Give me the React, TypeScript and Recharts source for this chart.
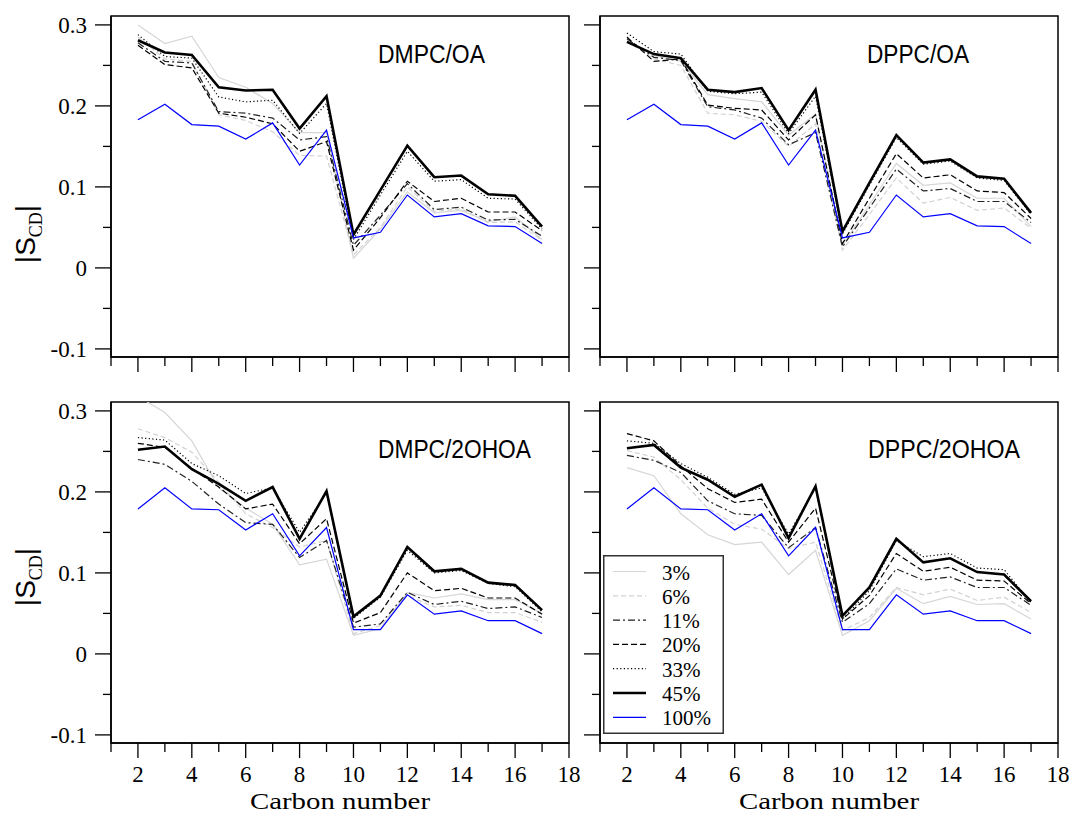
import React from 'react';
import { LineChart, Line, XAxis, YAxis, ReferenceArea, Legend } from 'recharts';

// carbon positions along the acyl chain
const carbons = [2, 3, 4, 5, 6, 7, 8, 9, 10, 11, 12, 13, 14, 15, 16, 17];
const seriesNames = ['3%', '6%', '11%', '20%', '33%', '45%', '100%'];

const xTicks = [1, 2, 3, 4, 5, 6, 7, 8, 9, 10, 11, 12, 13, 14, 15, 16, 17, 18];
const yTicks = [-0.1, -0.05, 0, 0.05, 0.1, 0.15, 0.2, 0.25, 0.3];

// pure fatty acid (100%)
const oa100 = [0.183, 0.202, 0.177, 0.175, 0.159, 0.179, 0.127, 0.17, 0.037, 0.044, 0.09, 0.063, 0.067, 0.052, 0.051, 0.03];
const ohoa100 = [0.179, 0.205, 0.179, 0.178, 0.153, 0.173, 0.121, 0.156, 0.03, 0.03, 0.073, 0.049, 0.053, 0.041, 0.041, 0.025];

// DMPC/OA
const dmpcOa3 = [0.3, 0.277, 0.286, 0.235, 0.223, 0.203, 0.167, 0.167, 0.012, 0.048, 0.094, 0.068, 0.071, 0.057, 0.063, 0.035];
const dmpcOa6 = [0.285, 0.258, 0.255, 0.189, 0.182, 0.168, 0.139, 0.138, 0.016, 0.05, 0.1, 0.07, 0.073, 0.056, 0.057, 0.034];
const dmpcOa11 = [0.278, 0.255, 0.253, 0.193, 0.191, 0.185, 0.158, 0.162, 0.028, 0.065, 0.104, 0.072, 0.075, 0.059, 0.06, 0.039];
const dmpcOa20 = [0.275, 0.251, 0.247, 0.191, 0.186, 0.178, 0.144, 0.156, 0.022, 0.062, 0.107, 0.082, 0.086, 0.069, 0.069, 0.046];
const dmpcOa33 = [0.288, 0.261, 0.259, 0.211, 0.205, 0.207, 0.166, 0.203, 0.035, 0.09, 0.144, 0.107, 0.109, 0.086, 0.085, 0.048];
const dmpcOa45 = [0.281, 0.266, 0.263, 0.223, 0.219, 0.22, 0.172, 0.212, 0.041, 0.096, 0.151, 0.112, 0.114, 0.091, 0.089, 0.051];

// DPPC/OA
const dppcOa3 = [0.282, 0.262, 0.255, 0.214, 0.209, 0.205, 0.164, 0.19, 0.028, 0.078, 0.129, 0.102, 0.105, 0.086, 0.086, 0.051];
const dppcOa6 = [0.28, 0.258, 0.25, 0.191, 0.189, 0.181, 0.15, 0.178, 0.022, 0.066, 0.111, 0.08, 0.087, 0.071, 0.074, 0.049];
const dppcOa11 = [0.283, 0.26, 0.256, 0.199, 0.195, 0.185, 0.152, 0.167, 0.026, 0.074, 0.122, 0.095, 0.098, 0.082, 0.082, 0.056];
const dppcOa20 = [0.285, 0.255, 0.258, 0.201, 0.197, 0.195, 0.158, 0.189, 0.03, 0.086, 0.141, 0.111, 0.115, 0.095, 0.093, 0.061];
const dppcOa33 = [0.29, 0.267, 0.264, 0.218, 0.215, 0.217, 0.166, 0.212, 0.042, 0.102, 0.161, 0.128, 0.132, 0.111, 0.108, 0.066];
const dppcOa45 = [0.279, 0.264, 0.259, 0.22, 0.217, 0.222, 0.17, 0.22, 0.045, 0.105, 0.164, 0.13, 0.134, 0.113, 0.11, 0.068];

// DMPC/2OHOA
const dmpcOh3 = [0.318, 0.298, 0.263, 0.205, 0.18, 0.16, 0.11, 0.117, 0.023, 0.031, 0.076, 0.069, 0.074, 0.067, 0.067, 0.05];
const dmpcOh6 = [0.278, 0.267, 0.249, 0.212, 0.173, 0.156, 0.132, 0.14, 0.025, 0.035, 0.072, 0.058, 0.06, 0.051, 0.051, 0.039];
const dmpcOh11 = [0.24, 0.234, 0.213, 0.185, 0.162, 0.16, 0.119, 0.14, 0.033, 0.037, 0.076, 0.061, 0.065, 0.056, 0.058, 0.045];
const dmpcOh20 = [0.26, 0.255, 0.229, 0.206, 0.179, 0.185, 0.136, 0.167, 0.038, 0.051, 0.1, 0.078, 0.081, 0.069, 0.069, 0.049];
const dmpcOh33 = [0.267, 0.264, 0.235, 0.22, 0.198, 0.205, 0.15, 0.199, 0.044, 0.07, 0.128, 0.1, 0.103, 0.087, 0.083, 0.052];
const dmpcOh45 = [0.252, 0.256, 0.228, 0.21, 0.189, 0.206, 0.142, 0.201, 0.046, 0.072, 0.132, 0.102, 0.105, 0.088, 0.085, 0.054];

// DPPC/2OHOA
const dppcOh3 = [0.23, 0.22, 0.173, 0.147, 0.135, 0.138, 0.098, 0.128, 0.023, 0.041, 0.081, 0.062, 0.071, 0.061, 0.062, 0.043];
const dppcOh6 = [0.251, 0.243, 0.215, 0.18, 0.16, 0.154, 0.13, 0.138, 0.029, 0.045, 0.082, 0.073, 0.08, 0.066, 0.07, 0.051];
const dppcOh11 = [0.245, 0.239, 0.224, 0.189, 0.173, 0.171, 0.131, 0.156, 0.039, 0.062, 0.105, 0.091, 0.095, 0.082, 0.082, 0.06];
const dppcOh20 = [0.272, 0.263, 0.232, 0.204, 0.187, 0.191, 0.138, 0.18, 0.043, 0.072, 0.124, 0.102, 0.107, 0.091, 0.09, 0.062];
const dppcOh33 = [0.263, 0.26, 0.235, 0.218, 0.197, 0.205, 0.148, 0.205, 0.043, 0.078, 0.14, 0.12, 0.124, 0.106, 0.104, 0.063];
const dppcOh45 = [0.254, 0.258, 0.23, 0.215, 0.194, 0.209, 0.143, 0.207, 0.047, 0.082, 0.142, 0.113, 0.118, 0.101, 0.098, 0.065];

const lineStyles = [
  { stroke: '#d6d6d6', width: 1.2, dash: undefined },
  { stroke: '#d2d2d2', width: 1.2, dash: '5 3' },
  { stroke: '#222', width: 1.2, dash: '7 3 2 3' },
  { stroke: '#000', width: 1.2, dash: '6 3' },
  { stroke: '#000', width: 1.2, dash: '1.2 2.4' },
  { stroke: '#000', width: 2.6, dash: undefined },
  { stroke: '#0000ff', width: 1.2, dash: undefined },
];

const SERIF = 'Liberation Serif';
const SANS = 'Liberation Sans';
const Y_DOMAIN: [number, number] = [-0.11, 0.311];

const XTick = (props: any) => {
  const { x, y, payload, showLabel } = props;
  const v = payload.value;
  const major = v % 2 === 0;
  return (
    <g>
      <line x1={x} x2={x} y1={y} y2={y + (major ? 15 : 9)} stroke="#000" strokeWidth={1.3} />
      {showLabel && major && (
        <text x={x} y={y + 39} textAnchor="middle" style={{ fontFamily: SERIF }} fontSize={23} fill="#000">
          {v}
        </text>
      )}
    </g>
  );
};

const YTick = (props: any) => {
  const { x, y, payload, showLabel } = props;
  const v = payload.value;
  const major = Math.abs(v * 10 - Math.round(v * 10)) < 1e-6;
  return (
    <g>
      <line x1={x - (major ? 16 : 8)} x2={x} y1={y} y2={y} stroke="#000" strokeWidth={1.3} />
      {showLabel && major && (
        <text x={x - 24} y={y} dy="0.35em" textAnchor="end" style={{ fontFamily: SERIF }} fontSize={23} fill="#000">
          {v === 0 ? '0' : v.toFixed(1)}
        </text>
      )}
    </g>
  );
};

const LegendBox = () => (
  <svg width={121} height={179}>
    <rect x={0.75} y={0.75} width={119.5} height={177.5} fill="#fff" stroke="#333" strokeWidth={1.5} />
    {seriesNames.map((n, k) => {
      const y = 16.5 + k * 24.3;
      const s = lineStyles[k];
      return (
        <g key={n}>
          <line x1={10} x2={43} y1={y} y2={y} stroke={s.stroke} strokeWidth={s.width} strokeDasharray={s.dash} />
          <text x={59} y={y + 8} style={{ fontFamily: SERIF }} fontSize={21} fill="#000">
            {n}
          </text>
        </g>
      );
    })}
  </svg>
);

interface PanelProps {
  left: number;
  top: number;
  width: number;
  height: number;
  margin: { top: number; right: number; bottom: number; left: number };
  yAxisWidth: number;
  xAxisHeight: number;
  series: number[][];
  showX: boolean;
  showY: boolean;
  legend?: boolean;
}

const Panel: React.FC<PanelProps> = ({ left, top, width, height, margin, yAxisWidth, xAxisHeight, series, showX, showY, legend }) => {
  const data = carbons.map((c, i) => {
    const row: Record<string, number> = { c };
    seriesNames.forEach((n, k) => {
      row[n] = series[k][i];
    });
    return row;
  });

  return (
    <div style={{ position: 'absolute', left, top, width, height }}>
      <LineChart width={width} height={height} data={data} margin={margin}>
        <XAxis
          dataKey="c"
          type="number"
          domain={[1, 18]}
          ticks={xTicks}
          interval={0}
          allowDataOverflow
          height={xAxisHeight}
          tickSize={0}
          tickMargin={0}
          tickLine={false}
          axisLine={{ stroke: '#000', strokeWidth: 1.5 }}
          tick={(p: any) => <XTick {...p} showLabel={showX} />}
        />
        <YAxis
          type="number"
          domain={Y_DOMAIN}
          ticks={yTicks}
          interval={0}
          allowDataOverflow
          width={yAxisWidth}
          tickSize={0}
          tickMargin={0}
          tickLine={false}
          axisLine={{ stroke: '#000', strokeWidth: 1.5 }}
          tick={(p: any) => <YTick {...p} showLabel={showY} />}
        />
        <ReferenceArea x1={1} x2={18} y1={Y_DOMAIN[0]} y2={Y_DOMAIN[1]} fill="none" stroke="#000" strokeWidth={1.5} />
        {seriesNames.map((n, k) => (
          <Line
            key={n}
            dataKey={n}
            name={n}
            type="linear"
            stroke={lineStyles[k].stroke}
            strokeWidth={lineStyles[k].width}
            strokeDasharray={lineStyles[k].dash}
            dot={false}
            activeDot={false}
            isAnimationActive={false}
          />
        ))}
        {legend && (
          <Legend
            layout="horizontal"
            verticalAlign="middle"
            align="center"
            content={() => <LegendBox />}
            wrapperStyle={{ left: 33, top: 165, width: 121, height: 179 }}
          />
        )}
      </LineChart>
    </div>
  );
};

const leftCol = { left: 0, width: 585, yAxisWidth: 80, ml: 31, mr: 16 };
const rightCol = { left: 570, width: 500, yAxisWidth: 20, ml: 10, mr: 12 };
const topRow = { top: 0, height: 400, xAxisHeight: 30, mt: 16, mb: 13 };
const bottomRow = { top: 390, height: 424, xAxisHeight: 60, mt: 12, mb: 11 };

const panels = [
  { col: leftCol, row: topRow, series: [dmpcOa3, dmpcOa6, dmpcOa11, dmpcOa20, dmpcOa33, dmpcOa45, oa100], showX: false, showY: true },
  { col: rightCol, row: topRow, series: [dppcOa3, dppcOa6, dppcOa11, dppcOa20, dppcOa33, dppcOa45, oa100], showX: false, showY: false },
  { col: leftCol, row: bottomRow, series: [dmpcOh3, dmpcOh6, dmpcOh11, dmpcOh20, dmpcOh33, dmpcOh45, ohoa100], showX: true, showY: true },
  { col: rightCol, row: bottomRow, series: [dppcOh3, dppcOh6, dppcOh11, dppcOh20, dppcOh33, dppcOh45, ohoa100], showX: true, showY: false, legend: true },
];

const titles = [
  { text: 'DMPC/OA', x: 378, y: 63, len: 107 },
  { text: 'DPPC/OA', x: 867, y: 63, len: 102 },
  { text: 'DMPC/2OHOA', x: 378, y: 458, len: 153 },
  { text: 'DPPC/2OHOA', x: 868, y: 458, len: 152 },
];

const SLabel = ({ cx, cy }: { cx: number; cy: number }) => (
  <text transform={`translate(${cx},${cy}) rotate(-90)`} textAnchor="middle" fill="#000">
    <tspan style={{ fontFamily: SANS }} fontSize={28}>|S</tspan>
    <tspan style={{ fontFamily: SERIF }} fontSize={18} dy={7}>CD</tspan>
    <tspan style={{ fontFamily: SANS }} fontSize={28} dy={-7}>|</tspan>
  </text>
);

export default function App() {
  return (
    <div style={{ position: 'absolute', left: 0, top: 0, width: 1070, height: 814, background: '#fff', overflow: 'hidden' }}>
      {panels.map((p, i) => (
        <Panel
          key={i}
          left={p.col.left}
          top={p.row.top}
          width={p.col.width}
          height={p.row.height}
          margin={{ top: p.row.mt, right: p.col.mr, bottom: p.row.mb, left: p.col.ml }}
          yAxisWidth={p.col.yAxisWidth}
          xAxisHeight={p.row.xAxisHeight}
          series={p.series}
          showX={p.showX}
          showY={p.showY}
          legend={p.legend}
        />
      ))}
      <svg width={1070} height={814} style={{ position: 'absolute', left: 0, top: 0, pointerEvents: 'none' }}>
        {titles.map((t) => (
          <text key={t.text} x={t.x} y={t.y} style={{ fontFamily: SANS }} fontSize={26} textLength={t.len} lengthAdjust="spacingAndGlyphs" fill="#000">
            {t.text}
          </text>
        ))}
        <SLabel cx={35} cy={234} />
        <SLabel cx={35} cy={577} />
        <text x={340} y={809} textAnchor="middle" style={{ fontFamily: SERIF }} fontSize={24} textLength={180} lengthAdjust="spacingAndGlyphs" fill="#000">
          Carbon number
        </text>
        <text x={829} y={809} textAnchor="middle" style={{ fontFamily: SERIF }} fontSize={24} textLength={180} lengthAdjust="spacingAndGlyphs" fill="#000">
          Carbon number
        </text>
      </svg>
    </div>
  );
}
